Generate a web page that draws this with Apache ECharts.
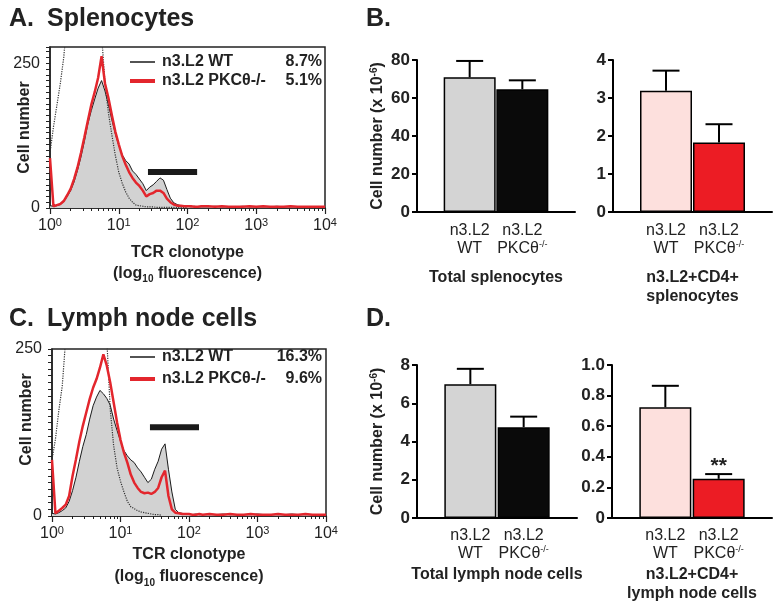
<!DOCTYPE html>
<html>
<head>
<meta charset="utf-8">
<script src="https://cdn.jsdelivr.net/npm/echarts@6/dist/echarts.min.js"></script>
<style>
  html, body { margin: 0; padding: 0; background: #fff; }
  #chart { width: 781px; height: 607px; }
</style>
</head>
<body>
<div id="chart"></div>
<script>
const FONT = "'Liberation Sans', Arial, Helvetica, sans-serif"
const INK = '#222'
const RED = '#e3262d'

// histogram bins (log10 fluorescence)
const logX = [0, 0.05, 0.1, 0.15, 0.2, 0.25, 0.3, 0.35, 0.4, 0.45, 0.5, 0.55, 0.6, 0.65, 0.7, 0.75, 0.8, 0.85, 0.9, 0.95,
  1, 1.05, 1.1, 1.15, 1.2, 1.25, 1.3, 1.35, 1.4, 1.45, 1.5, 1.55, 1.6, 1.65, 1.7, 1.75, 1.8, 1.85, 1.9, 1.95,
  2, 2.05, 2.1, 2.15, 2.2, 2.3, 2.4, 2.5, 2.6, 2.7, 2.8, 2.9, 3, 3.1, 3.2, 3.3, 3.4, 3.5, 3.6, 3.7, 3.8, 3.9, 4]

// A. splenocytes
const splWT = [4, 3, 4, 6, 11, 20, 30, 45, 65, 88, 115, 145, 168, 188, 207, 220, 202, 178, 152, 128,
  108, 92, 82, 76, 64, 58, 50, 42, 30, 36, 40, 46, 52, 48, 32, 17, 9, 6, 4, 3,
  3, 2, 3, 2, 2, 2, 3, 2, 2, 2, 3, 2, 2, 2, 2, 3, 2, 2, 2, 2, 2, 2, 2]
const splKO = [86, 3, 5, 7, 12, 22, 33, 50, 70, 95, 122, 150, 178, 200, 225, 262, 215, 190, 160, 132,
  110, 90, 75, 62, 52, 44, 38, 30, 20, 24, 26, 30, 30, 26, 16, 10, 6, 4, 4, 3,
  3, 3, 2, 2, 3, 3, 2, 3, 2, 2, 2, 3, 2, 3, 2, 2, 2, 3, 2, 2, 2, 2, 2]
const splIso = [95, 140, 177, 215, 260, 330, 420, 500, 560, 600, 620, 610, 580, 540, 470, 300, 215, 164, 126, 91,
  62, 43, 28, 17, 10, 5, 4, 3, 2, 2, 2, 1, 1, 1, 1, 1, 1, 1, 1, 1,
  1, null, null, null, null, null, null, null, null, null, null, null, null, null, null, null, null, null, null, null, null, null, null]
const splGate = [[1.425, 62], [2.14, 62]]
const splPct = ['8.7%', '5.1%']

// C. lymph node cells
const lnWT = [4, 3, 5, 8, 12, 22, 38, 58, 82, 104, 122, 145, 165, 178, 188, 183, 176, 166, 145, 128,
  112, 98, 90, 84, 80, 72, 66, 58, 50, 55, 70, 82, 100, 108, 70, 36, 10, 5, 4, 3,
  3, 2, 3, 2, 2, 2, 2, 3, 2, 2, 2, 2, 3, 2, 2, 2, 2, 3, 2, 2, 2, 2, 2]
const lnKO = [84, 4, 8, 12, 17, 30, 60, 85, 112, 135, 155, 175, 192, 205, 222, 242, 225, 200, 170, 140,
  114, 95, 80, 62, 50, 42, 36, 34, 35, 33, 36, 42, 58, 68, 30, 10, 5, 4, 3, 3,
  3, 2, 2, 3, 2, 3, 2, 2, 3, 2, 2, 3, 2, 2, 2, 3, 2, 2, 2, 3, 2, 2, 2]
const lnIso = [84, 115, 158, 195, 265, 320, 380, 440, 500, 540, 560, 550, 520, 470, 400, 330, 265, 160, 105, 72,
  52, 36, 22, 14, 11, 8, 6, 5, 4, 3, 2, 2, 1, null, null, null, null, null, null, null,
  null, null, null, null, null, null, null, null, null, null, null, null, null, null, null, null, null, null, null, null, null, null, null]
const lnGate = [[1.43, 133], [2.146, 133]]
const lnPct = ['16.3%', '9.6%']

// B / D bar charts (mean, sem)
const cats = ['l', 'WT', 'KO', 'r']
const splTotal = [70.9, 64.6]
const splTotalSem = [8.6, 4.7]
const splCD4 = [3.19, 1.83]
const splCD4Sem = [0.53, 0.48]
const lnTotal = [7.0, 4.75]
const lnTotalSem = [0.8, 0.55]
const lnCD4 = [0.724, 0.256]
const lnCD4Sem = [0.14, 0.031]
const lnCD4Sig = ['', '**']

const minorTicks = []
for (let d = 0; d < 4; d++) {
  for (let k = 2; k <= 9; k++) minorTicks.push(d + Math.log10(k))
}

function pairs(ys) {
  return logX.map((x, i) => [x, ys[i]])
}

function histX(grid, nameGap, lh) {
  return [
    {
      gridIndex: grid, type: 'value', min: 0, max: 4, interval: 1, position: 'bottom',
      axisLine: { lineStyle: { color: INK, width: 1.5 } },
      axisTick: { length: 6, lineStyle: { color: INK, width: 1.2 } },
      splitLine: { show: false },
      axisLabel: {
        margin: 9,
        formatter: (v) => '{b|10}{s|' + v + '}',
        rich: {
          b: { fontSize: 16, fontFamily: FONT, color: INK, lineHeight: 18 },
          s: { fontSize: 11, fontFamily: FONT, color: INK, lineHeight: 11, verticalAlign: 'top' },
        },
      },
      name: '{t|TCR clonotype}\n{t|(log}{sub|10}{t| fluorescence)}',
      nameLocation: 'middle',
      nameGap,
      nameMoveOverlap: false,
      nameTextStyle: {
        rich: {
          t: { fontSize: 16, fontWeight: 'bold', fontFamily: FONT, color: INK, lineHeight: lh },
          sub: { fontSize: 10, fontWeight: 'bold', fontFamily: FONT, color: INK, lineHeight: 10, verticalAlign: 'bottom' },
        },
      },
    },
    {
      gridIndex: grid, type: 'value', min: 0, max: 4, position: 'bottom',
      axisLine: { show: false }, axisLabel: { show: false }, splitLine: { show: false },
      axisTick: { length: 3, customValues: minorTicks, lineStyle: { color: INK, width: 1 } },
    },
  ]
}

function histY(grid, max, shift) {
  return {
    gridIndex: grid, type: 'value', min: 0, max, interval: 10,
    axisLine: { show: true, lineStyle: { color: INK, width: 1.5 } },
    axisTick: { show: true, length: 4, lineStyle: { color: INK, width: 1 } },
    splitLine: { show: false },
    axisLabel: {
      margin: 10, fontSize: 16, fontFamily: FONT, color: INK,
      formatter: (v) => (v === 0 || v === 250 ? String(v) : ''),
    },
    name: 'Cell number',
    nameLocation: 'middle',
    nameGap: 17,
    nameMoveOverlap: false,
    nameTextStyle: { fontSize: 16, fontWeight: 'bold', fontFamily: FONT, color: INK, padding: [0, 0, 0, shift] },
  }
}

function histSeries(xi, yi, wt, ko, iso, gate) {
  return [
    {
      type: 'line', xAxisIndex: xi, yAxisIndex: yi, data: pairs(wt), symbol: 'none', z: 2,
      lineStyle: { color: '#1a1a1a', width: 1 }, areaStyle: { color: '#d2d2d2', opacity: 1 },
    },
    {
      type: 'line', xAxisIndex: xi, yAxisIndex: yi, data: pairs(iso), symbol: 'none', z: 3,
      lineStyle: { color: '#333', width: 1.2, type: 'dotted' },
    },
    {
      type: 'line', xAxisIndex: xi, yAxisIndex: yi, data: pairs(ko), symbol: 'none', z: 4,
      lineStyle: { color: RED, width: 2.5 },
    },
    {
      type: 'line', xAxisIndex: xi, yAxisIndex: yi, data: gate, symbol: 'none', z: 5,
      lineStyle: { color: '#1a1a1a', width: 6, cap: 'butt' },
    },
  ]
}

const catRich = {
  r: { fontSize: 16, fontFamily: FONT, color: INK, lineHeight: 18 },
  sup: { fontSize: 9, fontFamily: FONT, color: INK, lineHeight: 9, verticalAlign: 'top' },
}

function barX(grid, title, nameGap, margin) {
  return {
    gridIndex: grid, type: 'category', data: cats, boundaryGap: false,
    axisLine: { lineStyle: { color: '#000', width: 2 } },
    axisTick: { show: false },
    axisLabel: {
      interval: 0, margin,
      formatter: (v) => v === 'WT' ? '{r|n3.L2}\n{r|WT}' : v === 'KO' ? '{r|n3.L2}\n{r|PKCθ}{sup|-/-}' : '',
      rich: catRich,
    },
    name: title,
    nameLocation: 'middle',
    nameGap,
    nameMoveOverlap: false,
    nameTextStyle: { fontSize: 16, fontWeight: 'bold', fontFamily: FONT, color: INK, lineHeight: 19 },
  }
}

function barY(grid, max, interval, showName, fmt) {
  return {
    gridIndex: grid, type: 'value', min: 0, max, interval,
    axisLine: { show: true, lineStyle: { color: '#000', width: 2 } },
    axisTick: { show: true, length: 5, lineStyle: { color: '#000', width: 2 } },
    splitLine: { show: false },
    axisLabel: { margin: 7, fontSize: 17, fontWeight: 'bold', fontFamily: FONT, color: INK, formatter: fmt },
    name: showName ? '{n|Cell number (x 10}{s|-6}{n|)}' : '',
    nameLocation: 'middle',
    nameGap: 31,
    nameMoveOverlap: false,
    nameTextStyle: {
      rich: {
        n: { fontSize: 16, fontWeight: 'bold', fontFamily: FONT, color: INK, lineHeight: 17 },
        s: { fontSize: 10, fontWeight: 'bold', fontFamily: FONT, color: INK, lineHeight: 10, verticalAlign: 'top' },
      },
    },
  }
}

function barSeries(xi, yi, means, colors) {
  return {
    type: 'bar', xAxisIndex: xi, yAxisIndex: yi, barWidth: 52, z: 2,
    itemStyle: { borderColor: '#000', borderWidth: 1.5 },
    data: ['-', ...means.map((m, i) => ({ value: m, itemStyle: { color: colors[i] } })), '-'],
  }
}

function errSeries(xi, yi, means, sems, marks) {
  return {
    type: 'custom', xAxisIndex: xi, yAxisIndex: yi, z: 5,
    data: means.map((m, i) => [i + 1, m, m + sems[i], i]),
    renderItem: (params, api) => {
      const base = api.coord([api.value(0), api.value(1)])
      const top = api.coord([api.value(0), api.value(2)])
      const st = { stroke: '#000', lineWidth: 2 }
      const kids = [
        { type: 'line', shape: { x1: base[0], y1: base[1], x2: top[0], y2: top[1] }, style: st },
        { type: 'line', shape: { x1: top[0] - 13.5, y1: top[1], x2: top[0] + 13.5, y2: top[1] }, style: st },
      ]
      const mark = marks ? marks[api.value(3)] : ''
      if (mark) {
        kids.push({
          type: 'text',
          style: { text: mark, x: top[0], y: top[1] + 3, align: 'center', verticalAlign: 'bottom', font: 'bold 21px ' + FONT, fill: INK },
        })
      }
      return { type: 'group', children: kids }
    },
  }
}

function txt(x, y, text, font, align) {
  return { type: 'text', style: { x, y, text, font, fill: INK, align: align || 'left', verticalAlign: 'middle' } }
}

function legend(y1, y2, pct) {
  return [
    { type: 'line', shape: { x1: 130, y1, x2: 155, y2: y1 }, style: { stroke: '#1a1a1a', lineWidth: 1.5 } },
    { type: 'line', shape: { x1: 130, y1: y2, x2: 155, y2 }, style: { stroke: RED, lineWidth: 4 } },
    txt(162, y1, 'n3.L2 WT', 'bold 16px ' + FONT),
    txt(162, y2, 'n3.L2 PKCθ-/-', 'bold 16px ' + FONT),
    txt(322, y1, pct[0], 'bold 16px ' + FONT, 'right'),
    txt(322, y2, pct[1], 'bold 16px ' + FONT, 'right'),
  ]
}

const chart = echarts.init(document.getElementById('chart'))
const axisFmt = (v) => String(v)
const fmt1 = (v) => (v === 0 ? '0' : v.toFixed(1))
const TITLE = 'bold 25px ' + FONT

chart.setOption({
  animation: false,
  backgroundColor: '#fff',
  grid: [
    { left: 50, top: 47, width: 275, height: 161, show: true, borderColor: INK, borderWidth: 1.5 },
    { left: 52, top: 349, width: 274, height: 167, show: true, borderColor: INK, borderWidth: 1.5 },
    { left: 417, top: 60, width: 158, height: 152 },
    { left: 613, top: 60, width: 159, height: 152 },
    { left: 417, top: 365, width: 160, height: 153 },
    { left: 612, top: 365, width: 160, height: 153 },
  ],
  xAxis: [
    ...histX(0, 34, 21),
    ...histX(1, 28, 22),
    barX(2, 'Total splenocytes', 56, 10),
    barX(3, 'n3.L2+CD4+\nsplenocytes', 56, 10),
    barX(4, 'Total lymph node cells', 47, 9),
    barX(5, 'n3.L2+CD4+\nlymph node cells', 47, 9),
  ],
  yAxis: [
    histY(0, 278, 0),
    histY(1, 250, 26),
    barY(2, 80, 20, true, axisFmt),
    barY(3, 4, 1, false, axisFmt),
    barY(4, 8, 2, true, axisFmt),
    barY(5, 1, 0.2, false, fmt1),
  ],
  series: [
    ...histSeries(0, 0, splWT, splKO, splIso, splGate),
    ...histSeries(2, 1, lnWT, lnKO, lnIso, lnGate),
    barSeries(4, 2, splTotal, ['#d4d4d4', '#0a0a0a']),
    errSeries(4, 2, splTotal, splTotalSem),
    barSeries(5, 3, splCD4, ['#fde0dd', '#ec1c24']),
    errSeries(5, 3, splCD4, splCD4Sem),
    barSeries(6, 4, lnTotal, ['#d4d4d4', '#0a0a0a']),
    errSeries(6, 4, lnTotal, lnTotalSem),
    barSeries(7, 5, lnCD4, ['#fde0dd', '#ec1c24']),
    errSeries(7, 5, lnCD4, lnCD4Sem, lnCD4Sig),
  ],
  graphic: [
    txt(9, 19, 'A.', TITLE),
    txt(47, 19, 'Splenocytes', TITLE),
    txt(366, 19, 'B.', TITLE),
    txt(9, 319, 'C.', TITLE),
    txt(47, 319, 'Lymph node cells', TITLE),
    txt(366, 319, 'D.', TITLE),
    ...legend(62, 81, splPct),
    ...legend(357, 379, lnPct),
  ],
})
</script>
</body>
</html>
